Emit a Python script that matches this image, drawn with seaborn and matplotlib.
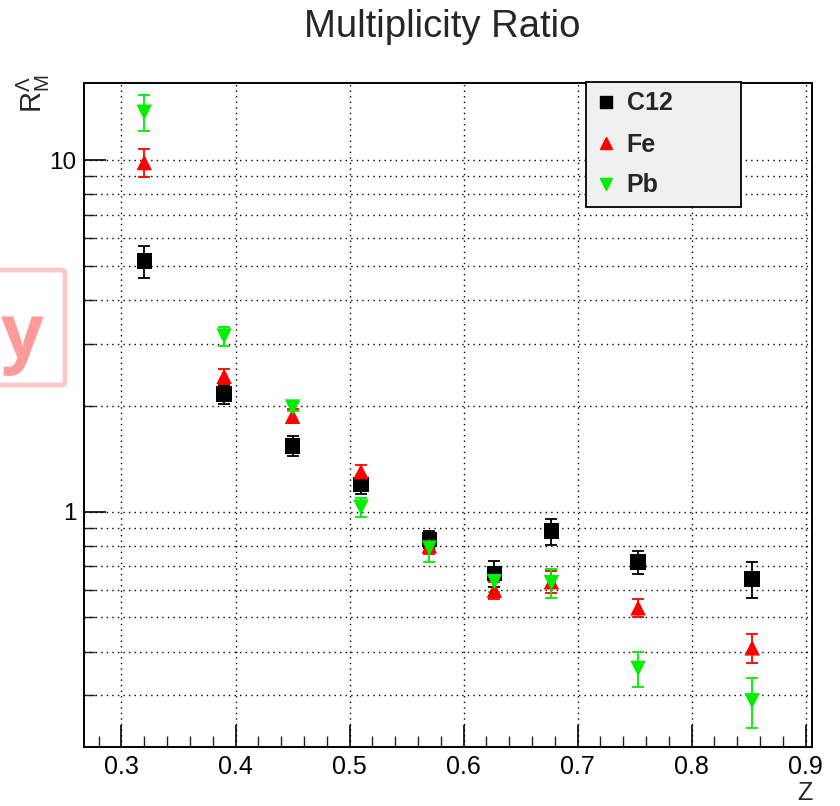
import numpy as np
import pandas as pd
import matplotlib
matplotlib.use("Agg")
import matplotlib.pyplot as plt
import seaborn as sns
from matplotlib.patches import FancyBboxPatch
from matplotlib.ticker import FixedLocator, NullFormatter, FixedFormatter

# z bin centres
z_vals = [0.32, 0.39, 0.45, 0.51, 0.57, 0.627, 0.677, 0.753, 0.853]

# multiplicity ratio per target, with errors
c12_vals = [5.17, 2.16, 1.54, 1.195, 0.834, 0.667, 0.880, 0.720, 0.643]
c12_errs = [0.55, 0.14, 0.10, 0.070, 0.045, 0.055, 0.075, 0.055, 0.075]
fe_vals = [9.86, 2.43, 1.87, 1.30, 0.80, 0.598, 0.632, 0.533, 0.410]
fe_errs = [0.90, 0.12, 0.085, 0.06, 0.04, 0.035, 0.045, 0.032, 0.040]
pb_vals = [13.7, 3.16, 1.985, 1.03, 0.788, 0.632, 0.628, 0.358, 0.2895]
pb_errs = [1.6, 0.20, 0.05, 0.065, 0.07, 0.04, 0.06, 0.040, 0.047]

targets = ["C12", "Fe", "Pb"]
colors = {"C12": "#000000", "Fe": "#ff0000", "Pb": "#00ee00"}
markers = {"C12": "s", "Fe": "^", "Pb": "v"}

df = pd.concat([
    pd.DataFrame({"z": z_vals, "ratio": v, "err": e, "target": t})
    for t, v, e in zip(targets, [c12_vals, fe_vals, pb_vals], [c12_errs, fe_errs, pb_errs])
], ignore_index=True)

sns.set_style("ticks")
plt.rcParams["font.family"] = ["Liberation Sans", "DejaVu Sans"]
plt.rcParams["mathtext.fontset"] = "custom"
plt.rcParams["mathtext.rm"] = "Liberation Sans"
plt.rcParams["mathtext.it"] = "Liberation Sans"

fig = plt.figure(figsize=(8.4, 8.06), dpi=100)
ax = fig.add_axes([83.5 / 840, 1 - 747 / 806, 728.5 / 840, 664 / 806])

for t in targets:
    sub = df[df["target"] == t]
    ax.errorbar(sub["z"], sub["ratio"], yerr=sub["err"], fmt="none",
                ecolor=colors[t], elinewidth=1.3, capsize=4, capthick=1.3, zorder=3)

sns.scatterplot(data=df, x="z", y="ratio", hue="target", style="target",
                palette=colors, markers=markers, s=125, edgecolor="none",
                legend=False, ax=ax, zorder=4)

ax.set_yscale("log")
ax.set_xlim(0.2667, 0.9055)
ax.set_ylim(0.214, 16.6)

# ticks drawn inside, ROOT style
xmaj = [0.3, 0.4, 0.5, 0.6, 0.7, 0.8, 0.9]
ax.xaxis.set_major_locator(FixedLocator(xmaj))
ax.xaxis.set_minor_locator(FixedLocator(np.arange(0.28, 0.905, 0.02)))
ax.set_xticklabels(["0.3", "0.4", "0.5", "0.6", "0.7", "0.8", "0.9"])
ymaj = [1, 10]
ymin = [0.3, 0.4, 0.5, 0.6, 0.7, 0.8, 0.9, 2, 3, 4, 5, 6, 7, 8, 9]
ax.yaxis.set_major_locator(FixedLocator(ymaj))
ax.yaxis.set_major_formatter(FixedFormatter(["1", "10"]))
ax.yaxis.set_minor_locator(FixedLocator(ymin))
ax.yaxis.set_minor_formatter(NullFormatter())
ax.tick_params(axis="both", which="major", direction="in", length=16, width=1.2,
               colors="black")
ax.tick_params(axis="x", which="major", labelsize=18, pad=6)
ax.tick_params(axis="y", which="major", labelsize=17.5, pad=5)
ax.tick_params(axis="both", which="minor", direction="in", length=8, width=1.0)

for yv in ymaj + ymin:
    ax.axhline(yv, color="black", lw=1.0, ls=(0, (1, 3)), zorder=1)
for xv in xmaj:
    ax.axvline(xv, color="black", lw=1.0, ls=(0, (1, 3)), zorder=1)

for sp in ax.spines.values():
    sp.set_linewidth(1.4)
    sp.set_color("black")

ax.set_xlabel("")
ax.set_ylabel("")
fig.text(812 / 840, 1 - 793 / 806, "Z", ha="right", va="center", fontsize=18)
fig.text(33 / 840, 1 - 94 / 806, r"$\mathrm{R^{\Lambda}_{M}}$", rotation=90,
         ha="center", va="center", fontsize=21)
fig.text(442 / 840, 1 - 27 / 806, "Multiplicity Ratio", ha="center", va="center",
         fontsize=27.5)

# legend
handles = [plt.Line2D([], [], ls="none", marker=markers[t], color=colors[t],
                      markersize=8) for t in targets]
leg = ax.legend(handles, targets, loc="upper left",
                bbox_to_anchor=((586 - 83.5) / 728.5, 0, (741 - 586) / 728.5,
                                (747 - 82) / 664),
                mode="expand", frameon=True, fancybox=False, framealpha=1,
                facecolor="#f0f0f0", edgecolor="black", borderaxespad=0,
                prop={"weight": "bold", "size": 18}, labelspacing=0.68,
                handlelength=0.8, handletextpad=0.45, borderpad=0.38)
leg.get_frame().set_linewidth(1.3)

# pink overlay box at the left edge
box = FancyBboxPatch((-20 / 840, 1 - 385 / 806), 85 / 840, 115 / 806,
                     boxstyle="round,pad=0,rounding_size=0.005",
                     transform=fig.transFigure, fill=False,
                     edgecolor="#ffc8c8", lw=3.5, zorder=10)
fig.add_artist(box)
fig.text(1 / 840, 1 - 338 / 806, "y", ha="left", va="center", fontsize=54,
         fontweight="bold", color="#ff9a9a", family=["Open Sans", "DejaVu Sans"])

fig.savefig("out.png", dpi=100)
